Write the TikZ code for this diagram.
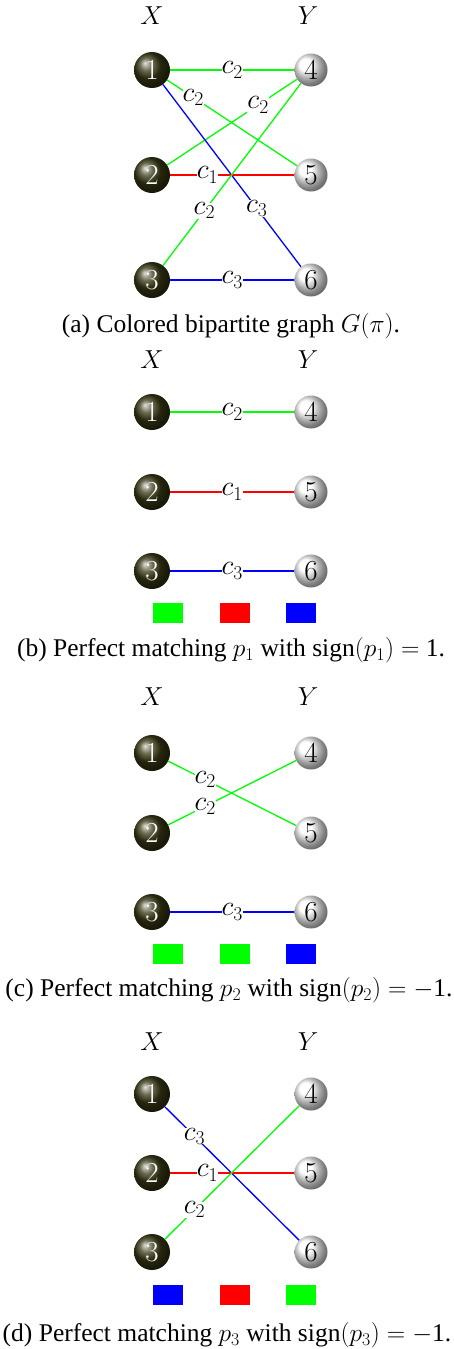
\RequirePackage{fix-cm}
\documentclass[tikz,border=0pt]{standalone}
\usepackage[no-math]{fontspec}
\setmainfont{Liberation Serif}
\definecolor{xball}{rgb}{0.22,0.22,0.08}
\definecolor{cgreen}{rgb}{0,1,0}
\definecolor{cred}{rgb}{1,0,0}
\definecolor{cblue}{rgb}{0,0,1}
\tikzset{
  xnode/.style={circle, ball color=xball, text=white, minimum size=36pt, inner sep=0pt, font=\fontsize{29}{29}\selectfont},
  ynode/.style={circle, ball color=white, text=black, minimum size=33pt, inner sep=0pt, font=\fontsize{29}{29}\selectfont},
  lab/.style={fill=white, inner sep=0pt, text=black, font=\fontsize{28}{28}\selectfont},
  side/.style={font=\fontsize{26}{26}\selectfont},
  conn/.style={line width=1.3pt},
  captxt/.style={font=\fontsize{25.5}{27}\selectfont},
  swatch/.style={minimum width=30pt, minimum height=20pt, inner sep=0pt},
}
\begin{document}
\begin{tikzpicture}[x=1pt,y=-1pt]
\useasboundingbox (0,0) rectangle (453,1349);
% ---------- (a)
\node[side] (ax) at (152,16) {$X$};
\node[side] (ay) at (308,16) {$Y$};
\node[xnode] (a1) at (152,70) {$1$};
\node[xnode] (a2) at (152,175) {$2$};
\node[xnode] (a3) at (152,280) {$3$};
\node[ynode] (a4) at (311,70) {$4$};
\node[ynode] (a5) at (311,175) {$5$};
\node[ynode] (a6) at (311,280) {$6$};
\draw[conn,cgreen] (a1) -- node[lab,pos=0.5]{$c_2$} (a4);
\draw[conn,cgreen] (a1) -- node[lab,pos=0.2]{$c_2$} (a5);
\draw[conn,cgreen] (a2) -- node[lab,pos=0.7]{$c_2$} (a4);
\draw[conn,cblue] (a1) -- node[lab,pos=0.68]{$c_3$} (a6);
\draw[conn,cred] (a2) -- node[lab,pos=0.3]{$c_1$} (a5);
\draw[conn,cgreen] (a3) -- node[lab,pos=0.3]{$c_2$} (a4);
\draw[conn,cblue] (a3) -- node[lab,pos=0.5]{$c_3$} (a6);
\node[captxt] (capa) at (231,326) {(a) Colored bipartite graph $G(\pi)$.};
% ---------- (b)
\node[side] (bx) at (152,360) {$X$};
\node[side] (by) at (308,360) {$Y$};
\node[xnode] (b1) at (152,412) {$1$};
\node[xnode] (b2) at (152,492) {$2$};
\node[xnode] (b3) at (152,571) {$3$};
\node[ynode] (b4) at (311,412) {$4$};
\node[ynode] (b5) at (311,492) {$5$};
\node[ynode] (b6) at (311,571) {$6$};
\draw[conn,cgreen] (b1) -- node[lab,pos=0.5]{$c_2$} (b4);
\draw[conn,cred] (b2) -- node[lab,pos=0.5]{$c_1$} (b5);
\draw[conn,cblue] (b3) -- node[lab,pos=0.5]{$c_3$} (b6);
\node[swatch,fill=cgreen] (bs1) at (168,613) {};
\node[swatch,fill=cred] (bs2) at (234.5,613) {};
\node[swatch,fill=cblue] (bs3) at (300.5,613) {};
\node[captxt] (capb) at (231,650) {(b) Perfect matching $p_1$ with sign$(p_1)=$ 1.};
% ---------- (c)
\node[side] (cx) at (152,697) {$X$};
\node[side] (cy) at (308,697) {$Y$};
\node[xnode] (c1) at (152,753) {$1$};
\node[xnode] (c2) at (152,833) {$2$};
\node[xnode] (c3) at (152,912) {$3$};
\node[ynode] (c4) at (311,753) {$4$};
\node[ynode] (c5) at (311,833) {$5$};
\node[ynode] (c6) at (311,912) {$6$};
\draw[conn,cgreen] (c1) -- node[lab,pos=0.29]{$c_2$} (c5);
\draw[conn,cgreen] (c2) -- node[lab,pos=0.29]{$c_2$} (c4);
\draw[conn,cblue] (c3) -- node[lab,pos=0.5]{$c_3$} (c6);
\node[swatch,fill=cgreen] (cs1) at (168,953.5) {};
\node[swatch,fill=cgreen] (cs2) at (234.5,953.5) {};
\node[swatch,fill=cblue] (cs3) at (300.5,953.5) {};
\node[captxt] (capc) at (229,990) {(c) Perfect matching $p_2$ with sign$(p_2)=-$1.};
% ---------- (d)
\node[side] (dx) at (152,1042) {$X$};
\node[side] (dy) at (308,1042) {$Y$};
\node[xnode] (d1) at (152,1094) {$1$};
\node[xnode] (d2) at (152,1173) {$2$};
\node[xnode] (d3) at (152,1252) {$3$};
\node[ynode] (d4) at (311,1094) {$4$};
\node[ynode] (d5) at (311,1173) {$5$};
\node[ynode] (d6) at (311,1252) {$6$};
\draw[conn,cblue] (d1) -- node[lab,pos=0.22]{$c_3$} (d6);
\draw[conn,cred] (d2) -- node[lab,pos=0.3]{$c_1$} (d5);
\draw[conn,cgreen] (d3) -- node[lab,pos=0.22]{$c_2$} (d4);
\node[swatch,fill=cblue] (ds1) at (168,1294.5) {};
\node[swatch,fill=cred] (ds2) at (234.5,1294.5) {};
\node[swatch,fill=cgreen] (ds3) at (300.5,1294.5) {};
\node[captxt] (capd) at (227,1335) {(d) Perfect matching $p_3$ with sign$(p_3)=-$1.};
\end{tikzpicture}
\end{document}
